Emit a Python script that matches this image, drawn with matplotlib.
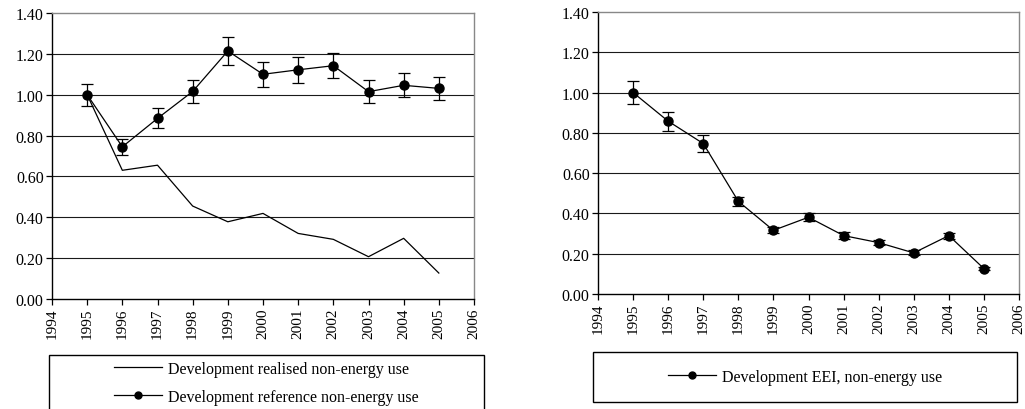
import matplotlib
matplotlib.use("Agg")
import matplotlib.pyplot as plt
from matplotlib.patches import Rectangle
from matplotlib.lines import Line2D

plt.rcParams['font.family'] = ['Liberation Serif', 'DejaVu Serif']

# Years and indices
years = [1995, 1996, 1997, 1998, 1999, 2000, 2001, 2002, 2003, 2004, 2005]

realised = [1.00, 0.63, 0.655, 0.455, 0.378, 0.419, 0.321, 0.292, 0.207, 0.297, 0.127]
reference = [1.00, 0.745, 0.884, 1.016, 1.214, 1.10, 1.122, 1.142, 1.015, 1.046, 1.031]
reference_err = [0.054, 0.040, 0.049, 0.055, 0.067, 0.060, 0.064, 0.060, 0.058, 0.058, 0.057]

eei = [1.00, 0.858, 0.747, 0.460, 0.316, 0.381, 0.290, 0.255, 0.204, 0.290, 0.126]
eei_err = [0.056, 0.047, 0.040, 0.022, 0.015, 0.020, 0.016, 0.014, 0.012, 0.015, 0.008]

xticks = list(range(1994, 2007))
yticks = [0.0, 0.2, 0.4, 0.6, 0.8, 1.0, 1.2, 1.4]

label_realised = "Development realised non-energy use"
label_reference = "Development reference non-energy use"
label_eei = "Development EEI, non-energy use"

W, H = 1025, 410
fig = plt.figure(figsize=(W / 100, H / 100), dpi=100)


def style_axes(ax):
    ax.set_xlim(1994, 2006)
    ax.set_ylim(0, 1.4)
    ax.set_xticks(xticks)
    ax.set_xticklabels([str(x) for x in xticks], rotation=90, fontsize=11)
    ax.set_yticks(yticks)
    ax.set_yticklabels([f"{v:.2f}" for v in yticks], fontsize=11.5)
    for v in yticks[1:-1]:
        ax.axhline(v, color='#1a1a1a', lw=0.8, zorder=1)
    ax.spines['left'].set_color('black')
    ax.spines['bottom'].set_color('black')
    ax.spines['top'].set_color('#888888')
    ax.spines['right'].set_color('#888888')
    for s in ax.spines.values():
        s.set_linewidth(1.0)
    ax.tick_params(axis='both', direction='out', length=4, width=0.9,
                   color='black', pad=2)


def fig_rect(x0, y0, x1, y1):
    # pixel box (top-left origin) to figure fraction [left, bottom, width, height]
    return [x0 / W, 1 - y1 / H, (x1 - x0) / W, (y1 - y0) / H]


ax1 = fig.add_axes(fig_rect(52, 14, 474, 300))
ax2 = fig.add_axes(fig_rect(598, 13, 1019, 295))
style_axes(ax1)
style_axes(ax2)

marker_kw = dict(color='black', lw=0.9, marker='o', markersize=6.5,
                 capsize=4, elinewidth=0.9, capthick=0.9, zorder=3)

ax1.plot(years, realised, color='black', lw=0.9, zorder=3)
ax1.errorbar(years, reference, yerr=reference_err, **marker_kw)
ax2.errorbar(years, eei, yerr=eei_err, **marker_kw)

# Legend frames
for (x0, y0, x1, y1) in [(49, 356, 484, 416), (593, 353, 1017, 403)]:
    fig.patches.append(Rectangle((x0 / W, 1 - y1 / H), (x1 - x0) / W, (y1 - y0) / H,
                                 transform=fig.transFigure, fill=False,
                                 edgecolor='black', lw=1.0))

h_real = Line2D([], [], color='black', lw=0.9)
h_ref = Line2D([], [], color='black', lw=0.9, marker='o', markersize=5)
h_eei = Line2D([], [], color='black', lw=0.9, marker='o', markersize=5)

fig.legend([h_real, h_ref], [label_realised, label_reference],
           loc='center', bbox_to_anchor=(266.5 / W, 1 - 384 / H),
           frameon=False, fontsize=11.5, handlelength=3.0, handletextpad=0.4,
           labelspacing=0.75)
fig.legend([h_eei], [label_eei],
           loc='center', bbox_to_anchor=(805 / W, 1 - 378 / H),
           frameon=False, fontsize=11.5, handlelength=3.0, handletextpad=0.4)

fig.savefig("out.png", dpi=100)
